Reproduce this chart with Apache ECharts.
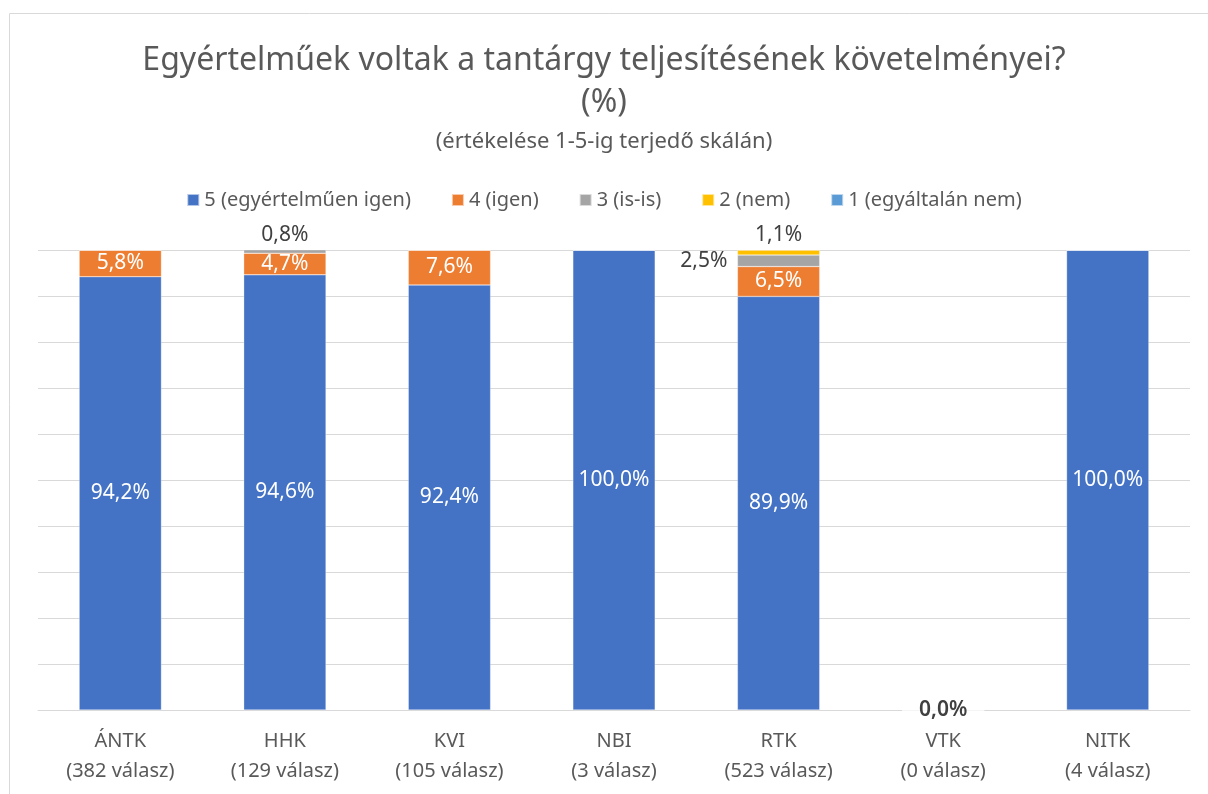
<!DOCTYPE html>
<html>
<head>
<meta charset="utf-8">
<script src="https://cdn.jsdelivr.net/npm/echarts@6/dist/echarts.min.js"></script>
<style>
html,body{margin:0;padding:0;background:#fff;}
#main{width:1208px;height:794px;}
</style>
</head>
<body>
<div id="main"></div>
<script>
// adatok
var categories = ['ÁNTK\n(382 válasz)', 'HHK\n(129 válasz)', 'KVI\n(105 válasz)', 'NBI\n(3 válasz)', 'RTK\n(523 válasz)', 'VTK\n(0 válasz)', 'NITK\n(4 válasz)'];
var seriesNames = ['5 (egyértelműen igen)', '4 (igen)', '3 (is-is)', '2 (nem)', '1 (egyáltalán nem)'];
var s5 = [94.2, 94.6, 92.4, 100.0, 89.9, 0.0, 100.0];
var s4 = [5.8, 4.7, 7.6, 0, 6.5, 0, 0];
var s3 = [0, 0.8, 0, 0, 2.5, 0, 0];
var s2 = [0, 0, 0, 0, 1.1, 0, 0];
var s1 = [0, 0, 0, 0, 0, 0, 0];
var colors = ['#4472C4', '#ED7D31', '#A5A5A5', '#FFC000', '#5B9BD5'];

var FONT = 'Noto Sans';

function fmt(v) {
    return v.toFixed(1).replace('.', ',') + '%';
}
function fmtNonZero(p) {
    return p.value > 0 ? fmt(p.value) : '';
}

var myChart = echarts.init(document.getElementById('main'));

// VTK-nál (0 válasz) a 0,0% felirat a tengelyen jelenik meg
var s5data = s5.map(function (v, i) {
    if (i === 5) {
        return {
            value: v,
            label: {show: true, color: '#404040', fontWeight: 600, formatter: function (p) { return fmt(p.value); }}
        };
    }
    return v;
});

// 3-as sorozat: HHK felül, RTK balra
var s3data = s3.map(function (v, i) {
    if (i === 4) {
        return {value: v, label: {position: 'left', distance: 10}};
    }
    return v;
});

var baseSeries = {
    type: 'bar',
    stack: 'total',
    barWidth: '50%',
    itemStyle: {borderColor: 'rgba(255,255,255,0.6)', borderWidth: 0.5},
    emphasis: {disabled: true}
};

option = {
    color: colors,
    textStyle: {fontFamily: FONT},
    graphic: [{
        type: 'rect',
        shape: {x: 9.5, y: 13.5, width: 1260, height: 900},
        style: {fill: 'none', stroke: '#d9d9d9', lineWidth: 1},
        silent: true
    }],
    title: [{
        text: 'Egyértelműek voltak a tantárgy teljesítésének követelményei?\n(%)',
        left: 'center',
        top: 35,
        textStyle: {fontFamily: FONT, fontSize: 32, fontWeight: 'normal', color: '#595959', lineHeight: 42}
    }, {
        text: '(értékelése 1-5-ig terjedő skálán)',
        left: 'center',
        top: 126,
        textStyle: {fontFamily: FONT, fontSize: 22, fontWeight: 'normal', color: '#595959'}
    }],
    legend: {
        data: seriesNames,
        top: 185,
        left: 'center',
        itemWidth: 12,
        itemHeight: 12,
        itemGap: 40,
        icon: 'rect',
        textStyle: {fontFamily: FONT, fontSize: 20, color: '#595959'}
    },
    grid: {left: 38, right: 18, top: 250, bottom: 84},
    xAxis: [{
        type: 'category',
        data: categories,
        axisLine: {show: true, lineStyle: {color: '#d9d9d9', width: 1}},
        axisTick: {show: false},
        axisLabel: {fontFamily: FONT, fontSize: 20, color: '#595959', lineHeight: 30, margin: 16}
    }],
    yAxis: [{
        type: 'value',
        min: 0,
        max: 100,
        interval: 10,
        axisLabel: {show: false},
        axisLine: {show: false},
        axisTick: {show: false},
        splitLine: {show: true, lineStyle: {color: '#d9d9d9', width: 1}}
    }],
    series: [
        Object.assign({}, baseSeries, {
            name: seriesNames[0],
            data: s5data,
            label: {show: true, position: 'inside', color: '#fff', fontSize: 21, fontFamily: FONT, formatter: fmtNonZero}
        }),
        Object.assign({}, baseSeries, {
            name: seriesNames[1],
            data: s4,
            label: {show: true, position: 'inside', color: '#fff', fontSize: 21, fontFamily: FONT, formatter: fmtNonZero}
        }),
        Object.assign({}, baseSeries, {
            name: seriesNames[2],
            data: s3data,
            label: {show: true, position: 'top', distance: 4, color: '#404040', fontSize: 21, fontFamily: FONT, formatter: fmtNonZero}
        }),
        Object.assign({}, baseSeries, {
            name: seriesNames[3],
            data: s2,
            label: {show: true, position: 'top', distance: 4, color: '#404040', fontSize: 21, fontFamily: FONT, formatter: fmtNonZero}
        }),
        Object.assign({}, baseSeries, {
            name: seriesNames[4],
            data: s1,
            label: {show: true, position: 'top', color: '#404040', fontSize: 21, fontFamily: FONT, formatter: fmtNonZero}
        })
    ]
};

myChart.setOption(option);
</script>
</body>
</html>
